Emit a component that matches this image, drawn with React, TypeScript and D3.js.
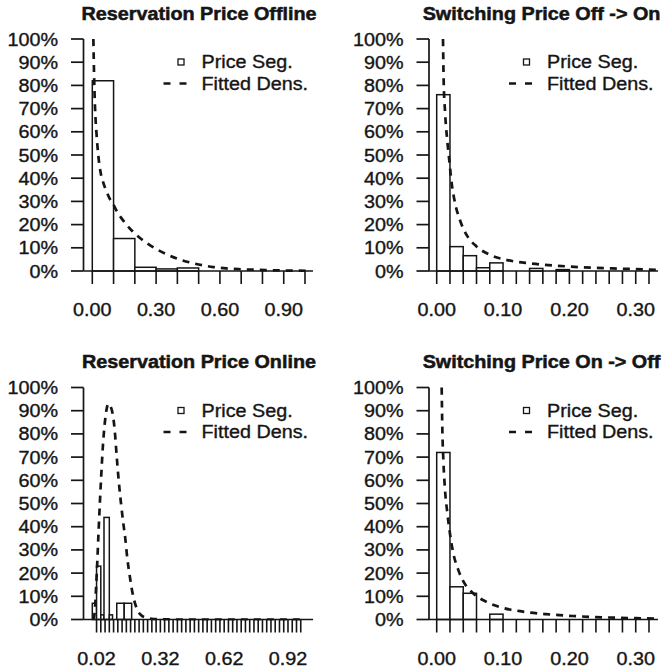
import React from "react";
import * as d3 from "d3";

// ---------- data ----------
const TITLES = [
  "Reservation Price Offline",
  "Switching Price Off -> On",
  "Reservation Price Online",
  "Switching Price On -> Off",
];
const LEGEND_LABELS = ["Price Seg.", "Fitted Dens."];
const Y_TICKS = [0, 10, 20, 30, 40, 50, 60, 70, 80, 90, 100];

// Panel 1: Reservation Price Offline
const OFF_EDGES = [0, 0.1, 0.2, 0.3, 0.4, 0.5, 0.6, 0.7, 0.8, 0.9, 1.0];
const OFF_PCT = [82, 14, 1.6, 0.9, 1.3, 0, 0, 0, 0, 0];
const OFF_CURVE: [number, number][] = [
  [0.005, 100], [0.009, 82], [0.013, 70], [0.02, 59], [0.028, 50], [0.04, 42],
  [0.052, 38], [0.068, 34], [0.083, 31], [0.1, 28.5], [0.114, 26], [0.135, 23],
  [0.161, 20], [0.19, 17], [0.224, 14.2], [0.26, 11.8], [0.3, 9.5], [0.35, 7.2],
  [0.4, 5.3], [0.45, 3.9], [0.506, 2.7], [0.57, 1.7], [0.63, 1.1], [0.7, 0.75],
  [0.757, 0.55], [0.83, 0.35], [0.9, 0.22], [0.97, 0.12], [1.03, 0.08],
];
const OFF_TICKS = d3.range(0, 11).map((i) => i / 10);
const OFF_LABELS = [0, 0.3, 0.6, 0.9];

// Panel 2: Switching Price Off -> On
const OFFON_EDGES = d3.range(0, 17).map((i) => i * 0.02);
const OFFON_PCT = [76, 10.5, 6.6, 1.4, 3.5, 0, 0, 1.1, 0, 0.6, 0, 0, 0, 0, 0, 0];
const OFFON_CURVE: [number, number][] = [
  [0.0095, 100], [0.0105, 82], [0.0125, 69], [0.016, 56], [0.0185, 49],
  [0.0225, 38], [0.0275, 29.5], [0.035, 22], [0.045, 15.6], [0.06, 10.6],
  [0.08, 7], [0.105, 4.8], [0.14, 3.3], [0.18, 2.3], [0.22, 1.6], [0.265, 1.1],
  [0.3, 0.8], [0.335, 0.5],
];
const OFFON_TICKS = d3.range(0, 17).map((i) => i * 0.02);
const OFFON_LABELS = [0, 0.1, 0.2, 0.3];

// Panel 3: Reservation Price Online
const ON_EDGES = [0, 0.02, 0.04, 0.055, 0.08, 0.095, 0.115, 0.15, 0.185];
const ON_PCT = [7, 23, 2, 44, 2, 0, 7, 7];
const ON_CURVE: [number, number][] = [
  [0.005, 0], [0.012, 4], [0.018, 14], [0.024, 26], [0.03, 39], [0.036, 51],
  [0.042, 62], [0.05, 75], [0.058, 84], [0.066, 90], [0.075, 93], [0.085, 92],
  [0.095, 89], [0.105, 82], [0.115, 70], [0.125, 59], [0.135, 50], [0.145, 42],
  [0.155, 35], [0.165, 26], [0.175, 19.5], [0.185, 13.5], [0.195, 9],
  [0.21, 4.5], [0.23, 1.8], [0.255, 0.7], [0.29, 0.2], [0.33, 0.05],
  [0.4, 0], [1.0, 0],
];
const ON_TICKS = d3.range(1, 50).map((i) => i * 0.02);
const ON_LABELS = [0.02, 0.32, 0.62, 0.92];

// Panel 4: Switching Price On -> Off
const ONOFF_EDGES = d3.range(0, 17).map((i) => i * 0.02);
const ONOFF_PCT = [72, 14.1, 11.3, 0, 2.3, 0, 0, 0, 0, 0, 0, 0, 0, 0, 0, 0];
const ONOFF_CURVE: [number, number][] = [
  [0.0075, 100], [0.0085, 82], [0.01, 69], [0.0125, 56], [0.016, 46],
  [0.02, 37], [0.025, 28.6], [0.0325, 21.4], [0.04, 16.5], [0.055, 11.3],
  [0.075, 7.6], [0.1, 5], [0.13, 3.4], [0.165, 2.3], [0.205, 1.5],
  [0.255, 0.9], [0.3, 0.55], [0.335, 0.35],
];
const ONOFF_TICKS = d3.range(0, 17).map((i) => i * 0.02);
const ONOFF_LABELS = [0, 0.1, 0.2, 0.3];

// ---------- layout ----------
const INK = "#151515";
const FONT = "'Liberation Sans', Arial, Helvetica, sans-serif";
const FS = 17.5;
const SX = 1.13;

const COLS = [
  { axisX: 83.5, x0: 92.3, xEndPx: 313, titleX: 199 },
  { axisX: 429, x0: 436.7, xEndPx: 658, titleX: 541.5 },
];
const ROWS = [
  { yTop: 39, yBot: 271, titleY: 19.5 },
  { yTop: 387.5, yBot: 619.5, titleY: 368 },
];

type Panel = {
  title: string;
  edges: number[];
  pct: number[];
  curve: [number, number][];
  ticks: number[];
  labels: number[];
  domain: [number, number];
  pxPerDomain: number;
  col: number;
  row: number;
};

const PANELS: Panel[] = [
  { title: TITLES[0], edges: OFF_EDGES, pct: OFF_PCT, curve: OFF_CURVE, ticks: OFF_TICKS, labels: OFF_LABELS, domain: [0, 1], pxPerDomain: 212.7, col: 0, row: 0 },
  { title: TITLES[1], edges: OFFON_EDGES, pct: OFFON_PCT, curve: OFFON_CURVE, ticks: OFFON_TICKS, labels: OFFON_LABELS, domain: [0, 0.32], pxPerDomain: 212.3, col: 1, row: 0 },
  { title: TITLES[2], edges: ON_EDGES, pct: ON_PCT, curve: ON_CURVE, ticks: ON_TICKS, labels: ON_LABELS, domain: [0, 1], pxPerDomain: 212.7, col: 0, row: 1 },
  { title: TITLES[3], edges: ONOFF_EDGES, pct: ONOFF_PCT, curve: ONOFF_CURVE, ticks: ONOFF_TICKS, labels: ONOFF_LABELS, domain: [0, 0.32], pxPerDomain: 212.3, col: 1, row: 1 },
];

function SText(props: {
  x: number;
  y: number;
  anchor?: "start" | "middle" | "end";
  bold?: boolean;
  children: React.ReactNode;
}) {
  return (
    <text
      transform={`translate(${props.x},${props.y}) scale(${SX},1)`}
      textAnchor={props.anchor || "start"}
      fontFamily={FONT}
      fontSize={FS}
      fontWeight={props.bold ? "bold" : "normal"}
      fill={INK}
      stroke={INK}
      strokeWidth={props.bold ? 0.5 : 0.35}
    >
      {props.children}
    </text>
  );
}

function PanelView({ p, idx }: { p: Panel; idx: number }) {
  const c = COLS[p.col];
  const r = ROWS[p.row];
  const x = d3
    .scaleLinear()
    .domain(p.domain)
    .range([c.x0, c.x0 + p.pxPerDomain]);
  const y = d3.scaleLinear().domain([0, 100]).range([r.yBot, r.yTop]);
  const line = d3
    .line<[number, number]>()
    .x((d) => x(d[0]))
    .y((d) => y(d[1]))
    .curve(d3.curveMonotoneX);
  const clipId = `clip-${idx}`;
  const fmt = d3.format(".2f");
  const tickLen = 12.5;
  return (
    <g>
      <defs>
        <clipPath id={clipId}>
          <rect x={c.axisX} y={r.yTop - 1} width={c.xEndPx - c.axisX + 5} height={r.yBot - r.yTop + 2} />
        </clipPath>
      </defs>
      <SText x={c.titleX} y={r.titleY} anchor="middle" bold>
        {p.title}
      </SText>
      {/* bars */}
      {p.pct.map((v, i) =>
        v > 0 ? (
          <rect
            key={i}
            x={x(p.edges[i])}
            y={y(v)}
            width={x(p.edges[i + 1]) - x(p.edges[i])}
            height={y(0) - y(v)}
            fill="white"
            stroke={INK}
            strokeWidth={1.5}
          />
        ) : null
      )}
      {/* fitted density */}
      <path
        d={line(p.curve) || ""}
        fill="none"
        stroke={INK}
        strokeWidth={2.7}
        strokeDasharray="7 6"
        clipPath={`url(#${clipId})`}
      />
      {/* y axis */}
      <line x1={c.axisX} x2={c.axisX} y1={y(100)} y2={y(0)} stroke={INK} strokeWidth={1.7} />
      {Y_TICKS.map((t) => (
        <g key={t}>
          <line x1={c.axisX - tickLen} x2={c.axisX} y1={y(t)} y2={y(t)} stroke={INK} strokeWidth={1.7} />
          <SText x={c.axisX - 25.5} y={y(t) + 6.5} anchor="end">
            {`${t}%`}
          </SText>
        </g>
      ))}
      {/* baseline */}
      <line x1={c.axisX} x2={c.xEndPx} y1={y(0)} y2={y(0)} stroke={INK} strokeWidth={1.7} />
      {/* x ticks */}
      {p.ticks.map((t, i) => (
        <line key={i} x1={x(t)} x2={x(t)} y1={y(0)} y2={y(0) + 13} stroke={INK} strokeWidth={1.6} />
      ))}
      {p.labels.map((t, i) => (
        <SText key={i} x={x(t)} y={y(0) + 45} anchor="middle">
          {fmt(t)}
        </SText>
      ))}
      {/* legend */}
      <rect
        x={c.axisX + 97.5 - 3}
        y={r.yTop + 23 - 3}
        width={6}
        height={6}
        fill="white"
        stroke={INK}
        strokeWidth={1.3}
      />
      <SText x={c.axisX + 118} y={r.yTop + 23 + 6.3}>
        {LEGEND_LABELS[0]}
      </SText>
      <line
        x1={c.axisX + 80}
        x2={c.axisX + 104}
        y1={r.yTop + 44.5}
        y2={r.yTop + 44.5}
        stroke={INK}
        strokeWidth={2.7}
        strokeDasharray="7 9"
      />
      <SText x={c.axisX + 118} y={r.yTop + 44.5 + 6.3}>
        {LEGEND_LABELS[1]}
      </SText>
    </g>
  );
}

export default function App() {
  return (
    <svg
      width={667}
      height={672}
      style={{ position: "absolute", left: 0, top: 0, background: "white" }}
    >
      <rect x={0} y={0} width={667} height={672} fill="white" />
      {PANELS.map((p, i) => (
        <PanelView key={i} p={p} idx={i} />
      ))}
    </svg>
  );
}
